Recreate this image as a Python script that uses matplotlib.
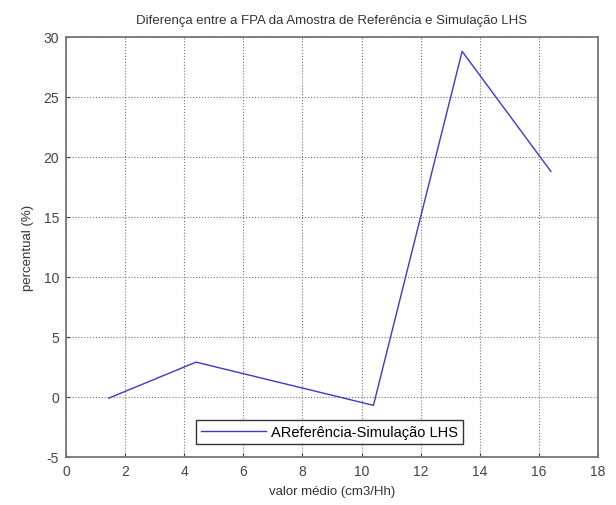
import matplotlib
matplotlib.use("Agg")
import matplotlib.pyplot as plt

x_vals = [1.45, 4.4, 10.4, 13.4, 16.4]
y_vals = [-0.1, 2.9, -0.7, 28.8, 18.8]
series_label = "AReferência-Simulação LHS"
x_ticks = [0, 2, 4, 6, 8, 10, 12, 14, 16, 18]
y_ticks = [-5, 0, 5, 10, 15, 20, 25, 30]

plt.rcParams['font.family'] = ['Liberation Sans', 'DejaVu Sans']
plt.rcParams['axes.unicode_minus'] = False
fig = plt.figure(figsize=(6.16, 5.06), dpi=100)
ax = fig.add_axes([0.107, 0.095, 0.864, 0.830])
ax.plot(x_vals, y_vals, color='#3a3ad0', linewidth=1.0, label=series_label)
ax.set_xlim(0, 18)
ax.set_ylim(-5, 30)
ax.set_xticks(x_ticks)
ax.set_yticks(y_ticks)
ax.grid(True, linestyle=':', color='#777777', linewidth=0.8)
ax.tick_params(direction='in', labelsize=10, colors='#444444', length=3, pad=5)
for s in ax.spines.values():
    s.set_color('#777777')
    s.set_linewidth(1.3)
ax.set_title("Diferença entre a FPA da Amostra de Referência e Simulação LHS",
             fontsize=9.5, color='#333333', pad=10)
ax.set_xlabel("valor médio (cm3/Hh)", fontsize=9.5, color='#333333', labelpad=5)
ax.set_ylabel("percentual (%)", fontsize=9.5, color='#333333', labelpad=7)
leg = ax.legend(loc='lower center', bbox_to_anchor=(0.495, 0.03), borderaxespad=0,
                fontsize=10.5, fancybox=False, framealpha=1, edgecolor='#333333',
                handlelength=4.5, borderpad=0.35, handletextpad=0.3)
leg.get_frame().set_linewidth(1.0)
fig.savefig("out.png", dpi=100)
